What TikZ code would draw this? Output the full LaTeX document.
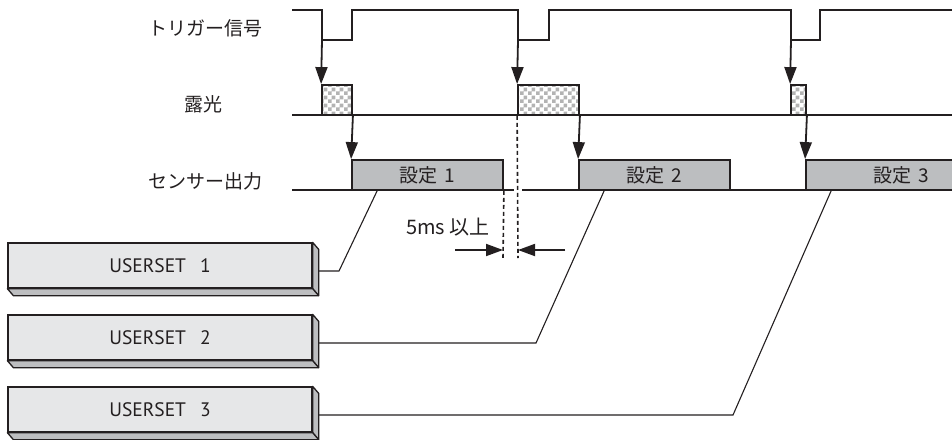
\documentclass[tikz,border=0pt]{standalone}
\usepackage{fontspec}
\setmainfont{Noto Sans CJK JP}
\newfontfamily\usfont{PT Sans}
\usetikzlibrary{arrows.meta,calc,patterns}
\pgfdeclarepatternformonly{checks}{\pgfpointorigin}{\pgfpoint{8pt}{8pt}}{\pgfpoint{8pt}{8pt}}{%
  \pgfpathrectangle{\pgfpointorigin}{\pgfpoint{4pt}{4pt}}%
  \pgfpathrectangle{\pgfpoint{4pt}{4pt}}{\pgfpoint{4pt}{4pt}}%
  \pgfusepath{fill}}
\definecolor{ink}{HTML}{231F20}
\definecolor{sgray}{HTML}{BCBEC0}
\definecolor{ugray}{HTML}{E6E7E8}
\definecolor{dgray}{HTML}{BDBEC0}
\definecolor{cgray}{HTML}{B3B3B3}
\begin{document}
\begin{tikzpicture}[x=1pt,y=-1pt,
  sig/.style={draw=ink,line width=1.8pt},
  arr/.style={draw=ink,fill=ink,line width=1.8pt,-{Triangle[length=17pt,width=12pt]}},
  sbox/.style={draw=ink,line width=1.8pt,fill=sgray,inner sep=0pt,minimum height=30pt,text=ink,font=\fontsize{19}{19}\selectfont},
  ebox/.style={draw=ink,line width=1.8pt,preaction={fill=white},pattern=checks,pattern color=cgray,inner sep=0pt,minimum height=30pt},
  ubox/.style={draw=ink,line width=1.3pt,fill=ugray,inner sep=0pt,minimum width=304pt,minimum height=45pt,text=ink,font=\usfont\fontsize{19.5}{19.5}\selectfont},
  side/.style={draw=ink,line width=1.3pt,fill=dgray,line join=round},
  conn/.style={draw=ink,line width=1.1pt},
  lbl/.style={text=ink,inner sep=0pt,font=\fontsize{19}{19}\selectfont},
  dashln/.style={draw=ink,line width=1.6pt,dash pattern=on 4pt off 3pt}
]
\useasboundingbox (0,0) rectangle (952,439);
\clip (0,0) rectangle (952,439);

% labels
\node[lbl] (ltrig) at (205,28) {トリガー信号};
\node[lbl] (lexp) at (203,104) {露光};
\node[lbl] (lsens) at (205,181) {センサー出力};

% baselines
\coordinate (b1s) at (292,115); \coordinate (b1e) at (960,115);
\coordinate (b2s) at (292,190); \coordinate (b2e) at (960,190);
\draw[sig] (b1s) -- (b1e);
\draw[sig] (b2s) -- (b2e);

% trigger signal
\coordinate (f1) at (322,40);
\coordinate (f2) at (518,40);
\coordinate (f3) at (791,40);
\draw[sig,line join=miter] (292,10) -- (322,10) -- (f1) -- (352,40) -- (352,10)
  -- (518,10) -- (f2) -- (549,40) -- (549,10)
  -- (791,10) -- (f3) -- (820,40) -- (820,10) -- (960,10);

% exposure boxes
\node[ebox,minimum width=30pt] (e1) at (337,100) {};
\node[ebox,minimum width=61pt] (e2) at (548.5,100) {};
\node[ebox,minimum width=15pt] (e3) at (798.5,100) {};

% sensor boxes
\node[sbox,minimum width=151pt] (s1) at (427.5,175) {設定\hspace{7pt}1};
\node[sbox,minimum width=151pt] (s2) at (654.5,175) {設定\hspace{7pt}2};
\node[sbox,minimum width=194pt,text width=146pt,align=left] (s3) at (903,175) {\hspace{43pt}設定\hspace{7pt}3};

% arrows trigger -> exposure
\draw[arr] (f1) -- (e1.north west);
\draw[arr] (f2) -- (e2.north west);
\draw[arr] (f3) -- (e3.north west);
% arrows exposure -> sensor
\draw[arr] (e1.south east) -- (s1.north west);
\draw[arr] (e2.south east) -- (s2.north west);
\draw[arr] (e3.south east) -- (s3.north west);

% dashed lines and gap
\coordinate (d1) at (503,258);
\coordinate (d2) at (518,258);
\draw[white,line width=3pt] (514,190) -- (522,190);
\draw[dashln] (s1.south east) -- (d1);
\draw[dashln] (e2.south west) -- (d2);

% 5ms
\coordinate (a1) at (455,250);
\coordinate (a2) at (565,250);
\draw[arr] (a1) -- (a1 -| d1);
\draw[arr] (a2) -- (a2 -| d2);
\node[lbl,font=\fontsize{20}{20}\selectfont] (lms) at (448,227) {5ms 以上};

% USERSET boxes
\foreach \n/\yc in {1/265.5,2/337.5,3/409.5}{
  \node[ubox] (u\n) at (160,\yc) {USERSET\hspace{14pt}\n};
  \draw[side] (u\n.north east) -- ++(6,7) -- ($(u\n.south east)+(6,7)$) -- (u\n.south east) -- cycle;
  \draw[side] (u\n.south west) -- (u\n.south east) -- ++(6,7) -- ($(u\n.south west)+(6,7)$) -- cycle;
}

% connectors
\coordinate (k1) at (339,271);
\coordinate (k2) at (536,343);
\coordinate (k3) at (733,415);
\draw[conn] ($(u1.east)+(6,5.5)$) -- (k1) -- ($(s1.south west)+(26,0)$);
\draw[conn] ($(u2.east)+(6,5.5)$) -- (k2) -- ($(s2.south west)+(26,0)$);
\draw[conn] ($(u3.east)+(6,5.5)$) -- (k3) -- ($(s3.south west)+(26,0)$);
\end{tikzpicture}
\end{document}
